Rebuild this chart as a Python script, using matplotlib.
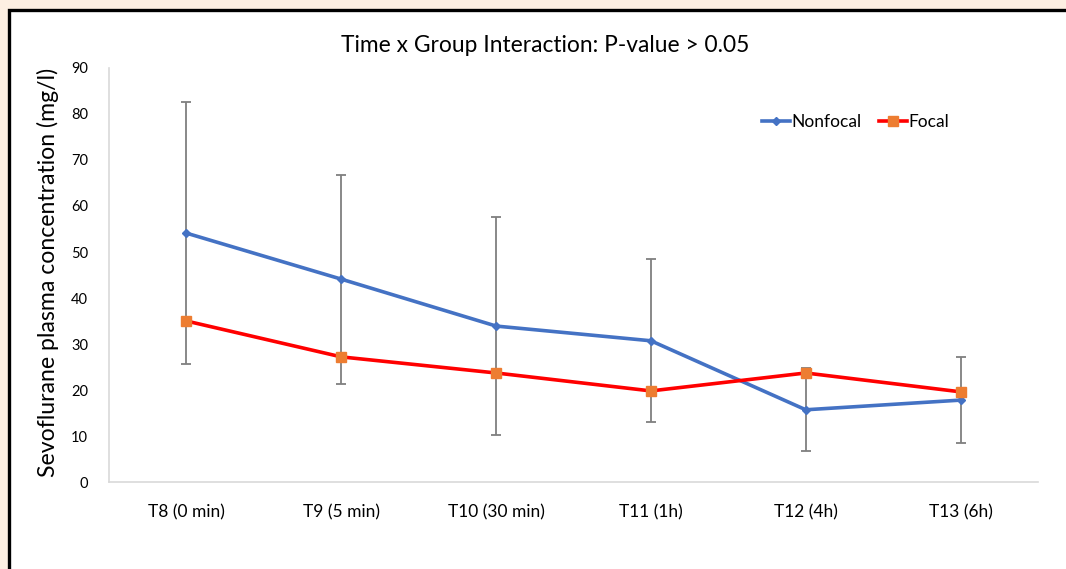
import matplotlib
matplotlib.use("Agg")
import matplotlib.pyplot as plt
from matplotlib.patches import Rectangle

# data
timepoints = ["T8 (0 min)", "T9 (5 min)", "T10 (30 min)", "T11 (1h)", "T12 (4h)", "T13 (6h)"]
nonfocal = [54.1, 44.1, 33.9, 30.7, 15.7, 17.8]
nonfocal_sd = [28.5, 22.7, 23.7, 17.7, 9.0, 9.3]
focal = [35.0, 27.2, 23.7, 19.8, 23.7, 19.6]
yticks = [0, 10, 20, 30, 40, 50, 60, 70, 80, 90]

W, H = 1066, 569
plt.rcParams["font.family"] = ["Lato", "DejaVu Sans"]

fig = plt.figure(figsize=(W / 100, H / 100), dpi=100)
fig.patch.set_facecolor("#fdefe2")

# white panel with black frame (left and top edges visible)
panel = Rectangle((8.5 / W, -0.05), 1.1, (H - 9.5) / H + 0.05,
                  transform=fig.transFigure, facecolor="white",
                  edgecolor="black", linewidth=2.4, zorder=0)
fig.add_artist(panel)

ax = fig.add_axes([109 / W, (H - 482) / H, (1038 - 109) / W, (482 - 68) / H])
ax.set_facecolor("none")

x = list(range(len(timepoints)))

ax.errorbar(x, nonfocal, yerr=nonfocal_sd, fmt="none", ecolor="#7f7f7f",
            elinewidth=1.3, capsize=3.5, capthick=1.3, zorder=2)
ax.plot(x, nonfocal, color="#4472c4", lw=2.6, marker="D", markersize=4.5,
        label="Nonfocal", zorder=3)
ax.plot(x, focal, color="#ff0000", lw=2.6, marker="s", markersize=6.5,
        markerfacecolor="#ed7d31", markeredgecolor="#ed7d31", label="Focal", zorder=4)

ax.set_xlim(-0.5, len(timepoints) - 0.5)
ax.set_ylim(0, 90)
ax.set_yticks(yticks)
ax.set_xticks(x)
ax.set_xticklabels(timepoints, fontsize=12.5)
ax.tick_params(axis="y", labelsize=10.5, length=0, pad=15)
ax.tick_params(axis="x", length=0, pad=16)

for side in ["top", "right"]:
    ax.spines[side].set_visible(False)
for side in ["left", "bottom"]:
    ax.spines[side].set_color("#d9d9d9")
    ax.spines[side].set_linewidth(1.2)

ax.set_ylabel("Sevoflurane plasma concentration (mg/l)", fontsize=16.6)
ax.yaxis.set_label_coords(-50 / (1038 - 109), 0.505)
fig.text(545 / W, 1 - 45 / H, "Time x Group Interaction: P-value > 0.05",
         ha="center", va="center", fontsize=16.4)

fig.legend(*ax.get_legend_handles_labels(), loc="center left",
           bbox_to_anchor=(762 / W, 1 - 122 / H), bbox_transform=fig.transFigure,
           ncol=2, frameon=False, fontsize=12.5, handlelength=1.6,
           handletextpad=0.1, columnspacing=1.0, borderpad=0, borderaxespad=0)

fig.savefig("out.png", dpi=100, facecolor=fig.get_facecolor())
